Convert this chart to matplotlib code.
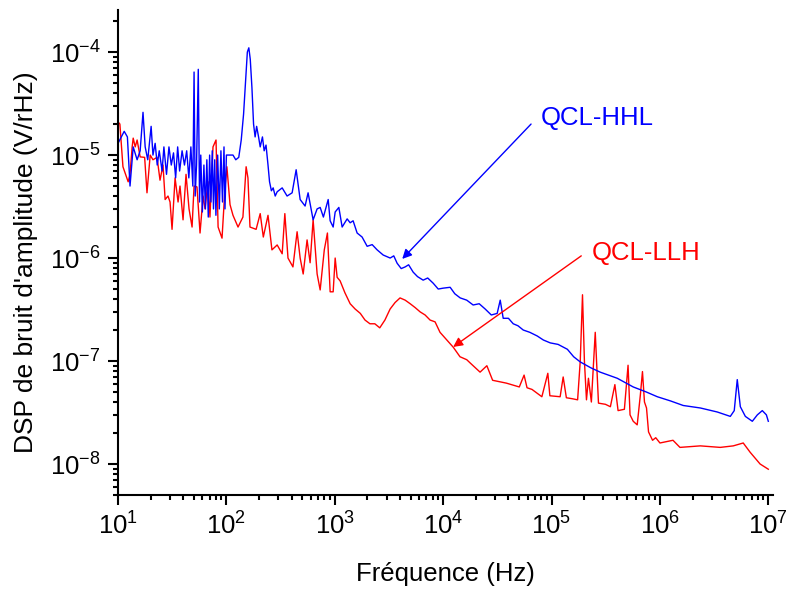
import matplotlib
matplotlib.use("Agg")
import matplotlib.pyplot as plt
from matplotlib.ticker import FixedLocator, LogFormatterSciNotation, NullFormatter

plt.rcParams['font.family'] = ['Liberation Sans', 'DejaVu Sans']
plt.rcParams['mathtext.fontset'] = 'custom'
plt.rcParams['mathtext.rm'] = 'Liberation Sans'

# ---- data: QCL-HHL (blue) ----
hhl_freq = [10, 11.4, 12.2, 12.9, 13.8, 15.0, 16.0, 17.0, 17.8, 18.8, 20.2, 21.0, 22.0, 23.0,
            24.0, 25.5, 26.5, 28.0, 29.5, 31.0, 32.5, 34.0, 35.5, 37.0, 39.0, 41.0, 43.0, 45.0,
            47.0, 49.0, 50.3, 51.5, 53.0, 55.0, 56.5, 58.0, 60.0, 62.0, 64.0, 66.0, 68.0, 70.0,
            72.0, 74.0, 76.0, 78.0, 80.0, 83.0, 86.0, 89.0, 92.0, 95.0, 97.0, 100, 108, 115,
            122, 130, 137, 144, 150, 156, 161, 166, 172, 178, 184, 190, 198, 205, 215, 223,
            232, 242, 250, 260, 270, 282, 294, 327, 363, 404, 440, 479, 532, 567, 631, 687,
            733, 785, 869, 906, 966, 1008, 1090, 1169, 1300, 1386, 1476, 1607, 1786, 1989,
            2212, 2460, 2795, 3243, 3500, 3760, 4100, 4457, 4800, 5284, 5800, 6535, 7200,
            8085, 9000, 10000, 11600, 12800, 14360, 16500, 18900, 21500, 24400, 27800, 31500,
            33600, 35800, 40000, 44300, 49000, 54800, 63000, 73800, 84000, 97300, 115000,
            140000, 160000, 184000, 230000, 281000, 404000, 567000, 750000, 946000, 1.25e6,
            1.64e6, 2.36e6, 3.38e6, 4.46e6, 4.85e6, 5.17e6, 5.52e6, 6.14e6, 7.12e6, 7.92e6,
            8.8e6, 9.6e6, 1.0e7]
hhl_val = [1.3e-5, 1.7e-5, 1.5e-5, 5.0e-6, 1.2e-5, 9.0e-6, 1.1e-5, 2.6e-5, 1.2e-5, 9.0e-6,
           1.9e-5, 1.0e-5, 1.3e-5, 8.0e-6, 1.1e-5, 7.0e-6, 1.2e-5, 6.5e-6, 1.2e-5, 8.0e-6,
           1.05e-5, 6.0e-6, 1.2e-5, 7.0e-6, 1.1e-5, 8.0e-6, 1.1e-5, 6.0e-6, 1.2e-5, 5.0e-6,
           6.4e-5, 4.0e-6, 8.0e-6, 6.8e-5, 3.5e-6, 1.0e-5, 2.8e-6, 8.0e-6, 3.0e-6, 9.0e-6,
           2.5e-6, 1.0e-5, 3.5e-6, 1.1e-5, 3.0e-6, 9.0e-6, 2.6e-6, 1.0e-5, 3.0e-6, 1.1e-5,
           3.5e-6, 1.2e-5, 3.0e-6, 1.0e-5, 1.0e-5, 1.0e-5, 9.0e-6, 9.5e-6, 1.4e-5, 2.5e-5,
           5.0e-5, 1.0e-4, 1.1e-4, 8.5e-5, 4.5e-5, 2.0e-5, 1.5e-5, 1.9e-5, 1.5e-5, 1.2e-5,
           1.5e-5, 1.1e-5, 1.25e-5, 8.0e-6, 5.5e-6, 4.5e-6, 4.8e-6, 4.0e-6, 4.4e-6, 4.8e-6,
           4.0e-6, 4.3e-6, 7.2e-6, 3.7e-6, 3.2e-6, 4.3e-6, 2.35e-6, 3.0e-6, 3.1e-6, 2.5e-6,
           3.7e-6, 2.3e-6, 2.0e-6, 2.8e-6, 3.1e-6, 2.0e-6, 2.4e-6, 2.2e-6, 2.3e-6, 1.75e-6,
           1.6e-6, 1.3e-6, 1.35e-6, 1.2e-6, 1.07e-6, 1.0e-6, 1.05e-6, 8.9e-7, 7.9e-7, 8.2e-7,
           8.6e-7, 7.3e-7, 6.6e-7, 6.1e-7, 6.4e-7, 5.7e-7, 5.0e-7, 5.1e-7, 5.2e-7, 4.5e-7,
           4.1e-7, 3.9e-7, 3.5e-7, 3.6e-7, 3.2e-7, 2.8e-7, 2.9e-7, 3.9e-7, 2.6e-7, 2.6e-7,
           2.3e-7, 2.2e-7, 2.0e-7, 1.9e-7, 1.75e-7, 1.6e-7, 1.5e-7, 1.45e-7, 1.3e-7, 1.1e-7,
           9.8e-8, 8.6e-8, 7.8e-8, 6.8e-8, 5.6e-8, 5.0e-8, 4.5e-8, 4.1e-8, 3.7e-8, 3.5e-8,
           3.2e-8, 2.9e-8, 3.3e-8, 6.6e-8, 3.6e-8, 2.9e-8, 2.6e-8, 3.0e-8, 3.3e-8, 3.0e-8,
           2.6e-8]

# ---- data: QCL-LLH (red) ----
llh_freq = [10, 10.4, 11.1, 12.4, 12.9, 13.5, 13.8, 14.4, 15.0, 16.0, 17.6, 18.5, 19.8, 21.0,
            22.9, 24.4, 26.0, 27.2, 28.9, 30.2, 31.5, 33.6, 35.8, 37.3, 39.8, 42.4, 45.2, 48.2,
            50.3, 53.5, 57.1, 60.9, 63.5, 67.6, 70.5, 75.2, 80.2, 83.8, 91.1, 97.3, 101, 108,
            115, 128, 142, 152, 158, 165, 188, 205, 219, 242, 263, 294, 327, 346, 370, 411,
            449, 479, 511, 555, 592, 631, 687, 733, 800, 855, 906, 966, 1008, 1051, 1120, 1240,
            1386, 1540, 1720, 1900, 2110, 2340, 2600, 2900, 3240, 3600, 4000, 4460, 4960, 5520,
            6130, 6810, 7570, 8420, 9350, 10800, 12400, 14300, 16500, 17700, 21900, 25300,
            28600, 38300, 50400, 55800, 59400, 66000, 81400, 92400, 96500, 120000, 128000,
            137000, 156000, 174000, 184000, 193000, 201000, 210000, 219000, 233000, 253000,
            271000, 314000, 349000, 384000, 411000, 470000, 508000, 530000, 567000, 617000,
            660000, 690000, 720000, 752000, 785000, 855000, 915000, 1.0e6, 1.32e6, 1.53e6,
            2.36e6, 3.6e6, 4.75e6, 5.87e6, 6.8e6, 8.4e6, 1.0e7]
llh_val = [2.1e-5, 2.0e-5, 7.7e-6, 5.5e-6, 6.5e-6, 1.2e-5, 1.46e-5, 1.2e-5, 1.4e-5, 9.6e-6,
           9.5e-6, 4.3e-6, 1.0e-5, 9.0e-6, 9.5e-6, 5.7e-6, 8.0e-6, 3.7e-6, 4.0e-6, 3.5e-6,
           1.9e-6, 6.0e-6, 3.5e-6, 5.0e-6, 2.35e-6, 6.5e-6, 3.0e-6, 2.0e-6, 5.0e-6, 4.9e-6,
           1.75e-6, 4.0e-6, 3.0e-6, 5.5e-6, 2.5e-6, 1.2e-5, 1.4e-5, 2.0e-6, 1.56e-6, 5.0e-6,
           7.7e-6, 3.3e-6, 2.6e-6, 2.0e-6, 2.5e-6, 7.7e-6, 6.0e-6, 2.0e-6, 1.9e-6, 2.7e-6,
           1.6e-6, 2.6e-6, 1.2e-6, 1.34e-6, 1.1e-6, 2.7e-6, 1.0e-6, 8.2e-7, 1.8e-6, 1.0e-6,
           7.0e-7, 1.5e-6, 9.0e-7, 2.35e-6, 7.0e-7, 4.9e-7, 1.2e-6, 1.75e-6, 4.7e-7, 4.7e-7,
           1.0e-6, 6.5e-7, 6.0e-7, 4.6e-7, 3.6e-7, 3.2e-7, 2.9e-7, 2.5e-7, 2.3e-7, 2.3e-7,
           2.1e-7, 2.5e-7, 3.2e-7, 3.7e-7, 4.1e-7, 3.9e-7, 3.6e-7, 3.3e-7, 3.0e-7, 2.8e-7,
           2.5e-7, 2.4e-7, 1.9e-7, 1.6e-7, 1.36e-7, 1.1e-7, 1.03e-7, 9.6e-8, 7.8e-8, 9.0e-8,
           6.5e-8, 6.1e-8, 5.6e-8, 7.3e-8, 5.5e-8, 5.3e-8, 4.5e-8, 7.6e-8, 4.6e-8, 4.5e-8,
           7.0e-8, 4.4e-8, 4.3e-8, 4.2e-8, 1.0e-7, 4.4e-7, 1.0e-7, 4.2e-8, 6.8e-8, 4.0e-8,
           1.9e-7, 3.9e-8, 3.8e-8, 3.6e-8, 5.9e-8, 3.3e-8, 3.4e-8, 9.1e-8, 3.0e-8, 2.6e-8,
           2.4e-8, 4.7e-8, 7.9e-8, 4.0e-8, 3.5e-8, 2.05e-8, 1.7e-8, 1.8e-8, 1.6e-8, 1.7e-8,
           1.45e-8, 1.5e-8, 1.45e-8, 1.5e-8, 1.6e-8, 1.3e-8, 1.0e-8, 8.9e-9]

series_labels = ["QCL-HHL", "QCL-LLH"]
x_label = "Fréquence (Hz)"
y_label = "DSP de bruit d'amplitude (V/rHz)"
x_major_ticks = [1e1, 1e2, 1e3, 1e4, 1e5, 1e6, 1e7]
y_major_ticks = [1e-8, 1e-7, 1e-6, 1e-5, 1e-4]

# annotation anchors (data coordinates): text position, arrow start, arrow tip
hhl_text_pos = (78700, 1.95e-5)
hhl_arrow_start = (64700, 2.0e-5)
hhl_arrow_tip = (4190, 9.8e-7)
llh_text_pos = (2.37e5, 9.6e-7)
llh_arrow_start = (1.88e5, 1.05e-6)
llh_arrow_tip = (12360, 1.37e-7)

fig = plt.figure(figsize=(7.89, 5.90), dpi=100)
ax = fig.add_axes([0.1496, 0.161, 0.8304, 0.822])

ax.plot(llh_freq, llh_val, color='#FF0000', lw=1.0)
ax.plot(hhl_freq, hhl_val, color='#0000FF', lw=1.0)

ax.set_xscale('log')
ax.set_yscale('log')
xlim = (10, 1.11e7)
ylim = (5.0e-9, 2.56e-4)
ax.set_xlim(*xlim)
ax.set_ylim(*ylim)

for s in ['top', 'right']:
    ax.spines[s].set_visible(False)
for s in ['left', 'bottom']:
    ax.spines[s].set_linewidth(1.5)

x_minor = [m * d for d in [1e1, 1e2, 1e3, 1e4, 1e5, 1e6] for m in range(2, 10)]
y_minor = [m * d for d in [1e-9, 1e-8, 1e-7, 1e-6, 1e-5, 1e-4] for m in range(2, 10)]
y_minor = [v for v in y_minor if ylim[0] <= v <= ylim[1]]

ax.xaxis.set_major_locator(FixedLocator(x_major_ticks))
ax.yaxis.set_major_locator(FixedLocator(y_major_ticks))
ax.xaxis.set_minor_locator(FixedLocator(x_minor))
ax.yaxis.set_minor_locator(FixedLocator(y_minor))
ax.xaxis.set_major_formatter(LogFormatterSciNotation())
ax.yaxis.set_major_formatter(LogFormatterSciNotation())
ax.xaxis.set_minor_formatter(NullFormatter())
ax.yaxis.set_minor_formatter(NullFormatter())

ax.tick_params(which='major', direction='out', length=7.5, width=1.5, labelsize=18.5, pad=5)
ax.tick_params(which='minor', direction='out', length=3.8, width=1.5)

ax.set_xlabel(x_label, fontsize=18.5)
ax.set_ylabel(y_label, fontsize=19)
ax.xaxis.set_label_coords(0.499, -0.138)
ax.yaxis.set_label_coords(-0.122, 0.480)

ax.text(*hhl_text_pos, series_labels[0], color='#0000FF', fontsize=18.5,
        ha='left', va='baseline')
ax.text(*llh_text_pos, series_labels[1], color='#FF0000', fontsize=18.5,
        ha='left', va='baseline')
ax.annotate('', xy=hhl_arrow_tip, xytext=hhl_arrow_start,
            arrowprops=dict(arrowstyle='-|>', color='#0000FF', lw=1.0,
                            mutation_scale=14, shrinkA=0, shrinkB=0))
ax.annotate('', xy=llh_arrow_tip, xytext=llh_arrow_start,
            arrowprops=dict(arrowstyle='-|>', color='#FF0000', lw=1.0,
                            mutation_scale=14, shrinkA=0, shrinkB=0))

fig.savefig('out.png', dpi=100)
